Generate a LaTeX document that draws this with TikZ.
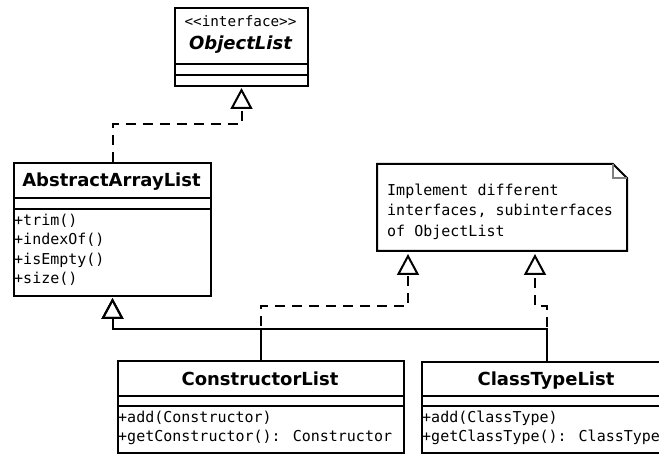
\documentclass[tikz,border=0pt]{standalone}
\usepackage{fontspec}
\usepackage{tikz}
\usetikzlibrary{arrows.meta}
\newfontfamily\umlsans{DejaVu Sans}
\newfontfamily\umlmono{DejaVu Sans Mono}

\tikzset{
  classbox/.style={draw, line width=2pt, inner sep=0pt, outer sep=1pt, anchor=north west},
  classname/.style={font=\umlsans\bfseries\fontsize{18}{20}\selectfont, anchor=base, inner sep=0pt},
  stereotype/.style={font=\umlmono\fontsize{14.3}{16}\selectfont, anchor=base, inner sep=0pt},
  members/.style={font=\umlmono\fontsize{15}{19.5}\selectfont, anchor=north west, align=left, inner sep=0pt},
  notetext/.style={font=\umlmono\fontsize{15}{20.5}\selectfont, anchor=north west, align=left, inner sep=0pt},
  divider/.style={line width=2pt},
  realize/.style={line width=2pt, dash pattern=on 10pt off 7pt, shorten >=1pt,
    -{Triangle[open, length=21pt, width=22pt]}},
  inherit/.style={line width=2pt, shorten >=1pt,
    -{Triangle[open, length=21pt, width=22pt]}}
}

\begin{document}
\begin{tikzpicture}[x=1pt, y=1pt]
  \useasboundingbox (0,0) rectangle (659,453);

  % interface on top
  \node[classbox, minimum width=133, minimum height=78] (objlist) at (174,446) {};
  \draw[divider] (174,389) -- (307,389);
  \draw[divider] (174,378) -- (307,378);
  \node[stereotype] (objster) at (240.5,426) {<<interface>>};
  \node[classname, font=\umlsans\bfseries\itshape\fontsize{18}{20}\selectfont] (objname) at (240.5,403) {ObjectList};

  % abstract base class
  \node[classbox, minimum width=197, minimum height=133] (abs) at (13,291) {};
  \draw[divider] (13,255) -- (210,255);
  \draw[divider] (13,244) -- (210,244);
  \node[classname] (absname) at (111.5,266) {AbstractArrayList};
  \node[members] (absops) at (14,239.4) {+trim()\\+indexOf()\\+isEmpty()\\+size()};

  % note with folded corner
  \node[minimum width=248, minimum height=85, inner sep=0pt, outer sep=1pt, anchor=north west] (note) at (377,289) {};
  \draw[line width=2pt] (note.north west) -- ([xshift=-14]note.north east)
    -- ([yshift=-14]note.north east) -- (note.south east) -- (note.south west) -- cycle;
  \draw[gray, line width=1.5pt] ([xshift=-14]note.north east) |- ([yshift=-14]note.north east);
  \node[notetext] (notetxt) at (387,269.5) {Implement different\\interfaces, subinterfaces\\of ObjectList};

  % concrete lists
  \node[classbox, minimum width=286, minimum height=92] (con) at (117,93) {};
  \draw[divider] (117,57) -- (403,57);
  \draw[divider] (117,47) -- (403,47);
  \node[classname] (conname) at (260,67) {ConstructorList};
  \node[members] (conops) at (118,42.4) {+add(Constructor)\\+getConstructor(): Constructor};

  \node[classbox, minimum width=250, minimum height=91] (ctl) at (421,92) {};
  \draw[divider] (421,57) -- (671,57);
  \draw[divider] (421,47) -- (671,47);
  \node[classname] (ctlname) at (546,68) {ClassTypeList};
  \node[members] (ctlops) at (422,42.4) {+add(ClassType)\\+getClassType(): ClassType};

  % realizations (dashed) and generalizations (solid)
  \draw[realize] (abs.north) -- ++(0,38) -| (objlist.south);
  \draw[inherit] (con.north) -- ++(0,31) -| (abs.south);
  \draw[inherit] (ctl.north) -- ++(0,32) -| (abs.south);
  \draw[realize, shorten >=3pt] (con.north) -- ++(0,54) -| ([xshift=31]note.south west);
  \draw[realize, shorten >=3pt] (ctl.north) -- ++(0,55) -| ([xshift=158]note.south west);
\end{tikzpicture}
\end{document}
